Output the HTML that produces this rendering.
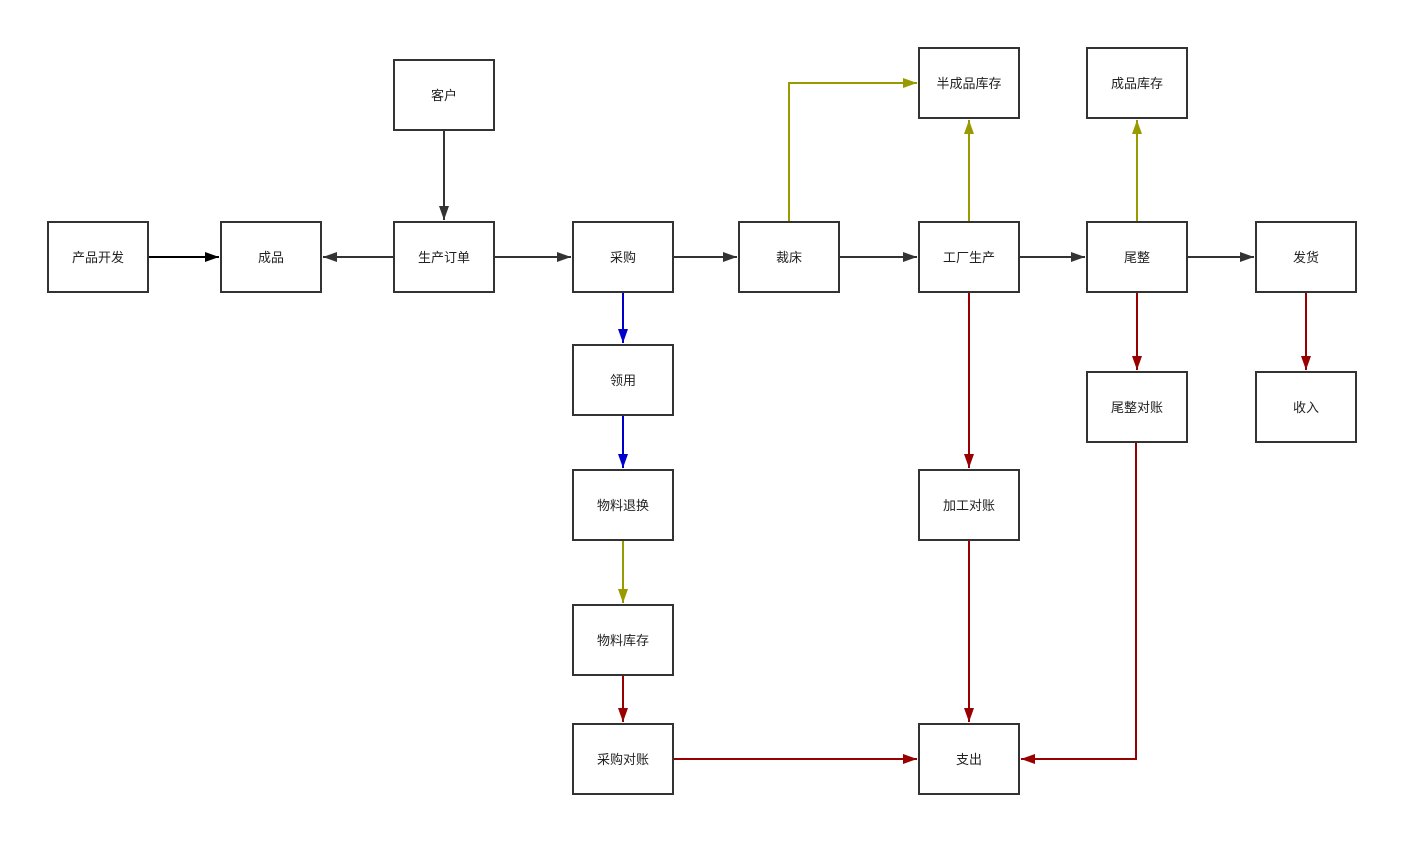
<!DOCTYPE html>
<html><head><meta charset="utf-8"><style>
html,body{margin:0;padding:0;background:#fff;}
svg{display:block;}
text{font-family:"Liberation Sans","Noto Sans CJK SC",sans-serif;font-size:13px;fill:#222;}
</style></head><body>
<svg width="1415" height="847" viewBox="0 0 1415 847" xmlns="http://www.w3.org/2000/svg">
<defs>
<marker id="k" viewBox="0 0 14 10" refX="14" refY="5" markerWidth="14" markerHeight="10" markerUnits="userSpaceOnUse" orient="auto"><path d="M0,0L14,5L0,10z" fill="#333"/></marker>
<marker id="k0" viewBox="0 0 14 10" refX="14" refY="5" markerWidth="14" markerHeight="10" markerUnits="userSpaceOnUse" orient="auto"><path d="M0,0L14,5L0,10z" fill="#000"/></marker>
<marker id="b" viewBox="0 0 14 10" refX="14" refY="5" markerWidth="14" markerHeight="10" markerUnits="userSpaceOnUse" orient="auto"><path d="M0,0L14,5L0,10z" fill="#0000cc"/></marker>
<marker id="o" viewBox="0 0 14 10" refX="14" refY="5" markerWidth="14" markerHeight="10" markerUnits="userSpaceOnUse" orient="auto"><path d="M0,0L14,5L0,10z" fill="#999900"/></marker>
<marker id="r" viewBox="0 0 14 10" refX="14" refY="5" markerWidth="14" markerHeight="10" markerUnits="userSpaceOnUse" orient="auto"><path d="M0,0L14,5L0,10z" fill="#990000"/></marker>
</defs>
<g fill="none" stroke-width="2">
<path d="M148,257H219" stroke="#000" marker-end="url(#k0)"/>
<path d="M394,257H323" stroke="#333" marker-end="url(#k)"/>
<path d="M444,130V220" stroke="#333" marker-end="url(#k)"/>
<path d="M494,257H571" stroke="#333" marker-end="url(#k)"/>
<path d="M673,257H737" stroke="#333" marker-end="url(#k)"/>
<path d="M839,257H917" stroke="#333" marker-end="url(#k)"/>
<path d="M1019,257H1085" stroke="#333" marker-end="url(#k)"/>
<path d="M1187,257H1254" stroke="#333" marker-end="url(#k)"/>
<path d="M623,292V343" stroke="#0000cc" marker-end="url(#b)"/>
<path d="M623,415V468" stroke="#0000cc" marker-end="url(#b)"/>
<path d="M623,540V603" stroke="#999900" marker-end="url(#o)"/>
<path d="M789,222V83H917" stroke="#999900" marker-end="url(#o)"/>
<path d="M969,222V120" stroke="#999900" marker-end="url(#o)"/>
<path d="M1137,222V120" stroke="#999900" marker-end="url(#o)"/>
<path d="M623,675V722" stroke="#990000" marker-end="url(#r)"/>
<path d="M673,759H917" stroke="#990000" marker-end="url(#r)"/>
<path d="M969,292V468" stroke="#990000" marker-end="url(#r)"/>
<path d="M969,540V722" stroke="#990000" marker-end="url(#r)"/>
<path d="M1137,292V370" stroke="#990000" marker-end="url(#r)"/>
<path d="M1306,292V370" stroke="#990000" marker-end="url(#r)"/>
<path d="M1136,442V759H1021" stroke="#990000" marker-end="url(#r)"/>
</g>
<g fill="#fff" stroke="#333" stroke-width="2">
<rect x="48" y="222" width="100" height="70"/>
<rect x="221" y="222" width="100" height="70"/>
<rect x="394" y="222" width="100" height="70"/>
<rect x="394" y="60" width="100" height="70"/>
<rect x="573" y="222" width="100" height="70"/>
<rect x="739" y="222" width="100" height="70"/>
<rect x="919" y="222" width="100" height="70"/>
<rect x="1087" y="222" width="100" height="70"/>
<rect x="1256" y="222" width="100" height="70"/>
<rect x="919" y="48" width="100" height="70"/>
<rect x="1087" y="48" width="100" height="70"/>
<rect x="573" y="345" width="100" height="70"/>
<rect x="573" y="470" width="100" height="70"/>
<rect x="573" y="605" width="100" height="70"/>
<rect x="573" y="724" width="100" height="70"/>
<rect x="919" y="470" width="100" height="70"/>
<rect x="919" y="724" width="100" height="70"/>
<rect x="1087" y="372" width="100" height="70"/>
<rect x="1256" y="372" width="100" height="70"/>
</g>
<g text-anchor="middle">
<text x="98" y="262">产品开发</text>
<text x="271" y="262">成品</text>
<text x="444" y="262">生产订单</text>
<text x="444" y="100">客户</text>
<text x="623" y="262">采购</text>
<text x="789" y="262">裁床</text>
<text x="969" y="262">工厂生产</text>
<text x="1137" y="262">尾整</text>
<text x="1306" y="262">发货</text>
<text x="969" y="88">半成品库存</text>
<text x="1137" y="88">成品库存</text>
<text x="623" y="385">领用</text>
<text x="623" y="510">物料退换</text>
<text x="623" y="645">物料库存</text>
<text x="623" y="764">采购对账</text>
<text x="969" y="510">加工对账</text>
<text x="969" y="764">支出</text>
<text x="1137" y="412">尾整对账</text>
<text x="1306" y="412">收入</text>
</g>
</svg>
</body></html>
